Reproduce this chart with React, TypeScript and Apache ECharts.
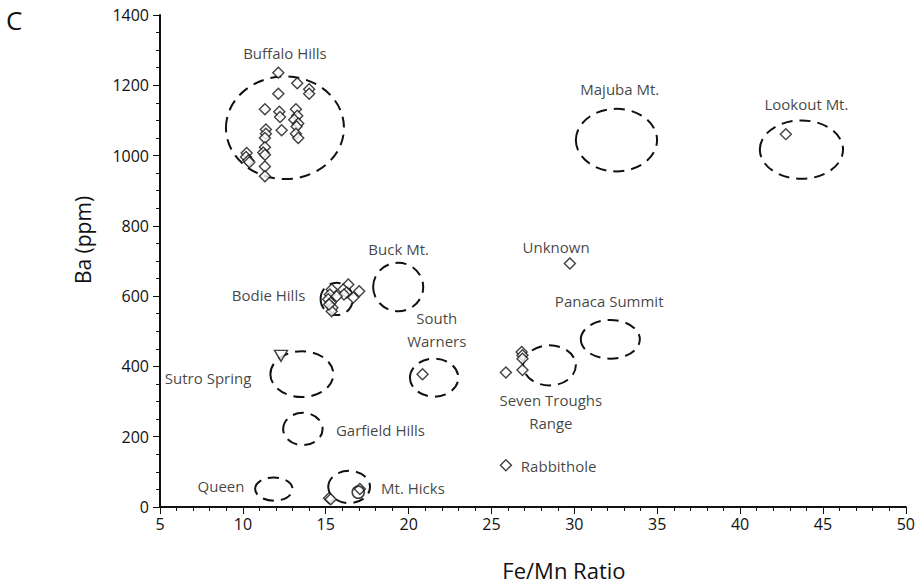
import React, { useEffect, useRef } from "react";
import * as echarts from "echarts";

// Diamond points [Fe/Mn, Ba]
const buffaloHills: number[][] = [
  [12.14, 1236], [13.28, 1206], [14.0, 1189], [14.0, 1176], [12.14, 1176],
  [11.33, 1132], [12.2, 1125], [13.2, 1132], [12.24, 1110], [13.28, 1113],
  [13.1, 1102], [13.34, 1091], [13.24, 1083], [12.34, 1072], [11.39, 1074],
  [11.39, 1062], [11.33, 1050], [13.2, 1062], [13.34, 1050], [11.33, 1024],
  [11.23, 1009], [11.33, 1002], [10.23, 1007], [10.19, 996], [10.33, 986],
  [10.39, 981], [11.33, 969], [11.33, 941],
];
const bodieHills: number[][] = [
  [16.36, 633], [16.06, 619], [17.02, 614], [16.26, 610], [15.36, 619],
  [15.25, 605], [15.15, 591], [15.3, 581], [15.4, 567], [15.36, 557],
  [16.66, 596], [16.1, 605], [15.66, 600], [15.2, 576],
];
const mtHicks: number[][] = [[15.2, 25], [15.3, 22], [17.06, 51]];
const sevenTroughs: number[][] = [[26.82, 441], [26.87, 432], [26.87, 422], [25.87, 383], [26.87, 390]];
const southWarners: number[][] = [[20.84, 378]];
const lookoutMt: number[][] = [[42.76, 1061]];
const unknown: number[][] = [[29.73, 693]];
const rabbithole: number[][] = [[25.87, 119]];
// other symbols
const sutroTriangles: number[][] = [[12.3, 430]];
const hicksCircles: number[][] = [[16.96, 42]];

// Source ellipses: [centre x, centre y, radius x, radius y]
const ellipseNames = ["Buffalo Hills", "Bodie Hills", "Buck Mt.", "Sutro Spring", "Garfield Hills", "Queen", "Mt. Hicks", "Seven Troughs Range", "Panaca Summit", "South Warners", "Majuba Mt.", "Lookout Mt."];
const ellipses: number[][] = [
  [12.54, 1079, 3.56, 146],
  [15.66, 592, 0.97, 46],
  [19.37, 626, 1.51, 69],
  [13.56, 378, 1.9, 65],
  [13.62, 222, 1.19, 46],
  [11.87, 51, 1.13, 33],
  [16.41, 57, 1.26, 46],
  [28.5, 403, 1.59, 57],
  [32.17, 477, 1.78, 55],
  [21.54, 368, 1.46, 54],
  [32.54, 1044, 2.45, 89],
  [43.7, 1017, 2.51, 83],
];

// Label anchors
const labelTexts = ["Buffalo Hills", "Majuba Mt.", "Lookout Mt.", "Buck Mt.", "Unknown", "Bodie Hills", "Panaca Summit", "South\nWarners", "Sutro Spring", "Seven Troughs\nRange", "Garfield Hills", "Rabbithole", "Queen", "Mt. Hicks"];
const labelPositions: number[][] = [
  [12.54, 1292], [32.74, 1190], [44.0, 1147], [19.4, 733], [28.9, 741],
  [11.55, 602], [32.1, 585], [21.7, 505], [7.9, 366], [28.58, 273],
  [18.3, 219], [29.05, 118], [8.68, 60], [20.26, 54],
];

const xTicks = { min: 5, max: 50, interval: 5 };
const yTicks = { min: 0, max: 1400, interval: 200 };

const INK = "#111111";
const FONT = "Open Sans";

export default function App() {
  const ref = useRef<HTMLDivElement>(null);
  useEffect(() => {
    if (!ref.current) return;
    const chart = echarts.init(ref.current, undefined, { renderer: "svg" });
    const diamonds = [
      ...buffaloHills, ...bodieHills, ...mtHicks, ...sevenTroughs,
      ...southWarners, ...lookoutMt, ...unknown, ...rabbithole,
    ];
    const markerStyle = { color: "#ffffff", borderColor: INK, borderWidth: 1.4 };
    chart.setOption({
      animation: false,
      backgroundColor: "#ffffff",
      textStyle: { fontFamily: FONT, color: INK },
      graphic: [
        { type: "text", left: 6, top: 7, style: { text: "C", fontSize: 26, fontFamily: FONT, fill: INK } },
      ],
      grid: { left: 160, right: 12, top: 15, bottom: 78, containLabel: false },
      xAxis: {
        type: "value",
        min: xTicks.min, max: xTicks.max, interval: xTicks.interval,
        name: "Fe/Mn Ratio", nameLocation: "middle", nameGap: 52,
        nameTextStyle: { fontSize: 22, color: INK, fontFamily: FONT, padding: [0, 0, 0, 62] },
        axisLine: { show: true, onZero: false, lineStyle: { color: INK, width: 2 } },
        axisTick: { show: true, inside: false, length: 7, lineStyle: { color: INK, width: 1 } },
        minorTick: { show: true, splitNumber: 5, length: 4, lineStyle: { color: INK, width: 1 } },
        axisLabel: { fontSize: 16, color: INK, fontFamily: FONT, margin: 9 },
        splitLine: { show: false },
      },
      yAxis: {
        type: "value",
        min: yTicks.min, max: yTicks.max, interval: yTicks.interval,
        name: "Ba (ppm)", nameLocation: "middle", nameGap: 67, nameRotate: 90,
        nameTextStyle: { fontSize: 21, color: INK, fontFamily: FONT, padding: [0, 0, 0, 42] },
        axisLine: { show: true, onZero: false, lineStyle: { color: INK, width: 2 } },
        axisTick: { show: true, inside: false, length: 7, lineStyle: { color: INK, width: 1 } },
        minorTick: { show: true, splitNumber: 4, length: 4, lineStyle: { color: INK, width: 1 } },
        axisLabel: { fontSize: 16, color: INK, fontFamily: FONT, margin: 11, formatter: (v: number) => String(v) },
        splitLine: { show: false },
      },
      series: [
        {
          type: "custom",
          name: "Sources",
          clip: false,
          silent: true,
          encode: { x: 0, y: 1 },
          data: ellipses.map((e, i) => ({ name: ellipseNames[i], value: e })),
          renderItem: (params: any, api: any) => {
            const c = api.coord([api.value(0), api.value(1)]);
            const s = api.size([api.value(2), api.value(3)]);
            return {
              type: "ellipse",
              shape: { cx: c[0], cy: c[1], rx: s[0], ry: s[1] },
              style: { fill: "none", stroke: INK, lineWidth: 2, lineDash: [11, 7] },
            };
          },
          z: 1,
        },
        {
          type: "scatter",
          name: "Samples",
          symbol: "diamond",
          symbolSize: [11, 11],
          itemStyle: markerStyle,
          data: diamonds,
          z: 3,
        },
        {
          type: "scatter",
          name: "Triangle",
          symbol: "triangle",
          symbolRotate: 180,
          symbolSize: [13, 11],
          itemStyle: markerStyle,
          data: sutroTriangles,
          z: 3,
        },
        {
          type: "scatter",
          name: "Circle",
          symbol: "circle",
          symbolSize: 12,
          itemStyle: { color: "rgba(255,255,255,0)", borderColor: INK, borderWidth: 1.6 },
          data: hicksCircles,
          z: 3,
        },
        {
          type: "scatter",
          name: "Labels",
          symbolSize: 0,
          silent: true,
          data: labelPositions.map((p, i) => ({ name: labelTexts[i], value: p })),
          label: {
            show: true,
            position: "inside",
            formatter: (p: any) => p.name,
            fontSize: 15,
            lineHeight: 23,
            color: INK,
            fontFamily: FONT,
            align: "center",
            verticalAlign: "middle",
          },
          z: 4,
        },
      ],
    });
    return () => chart.dispose();
  }, []);
  return <div ref={ref} style={{ position: "absolute", left: 0, top: 0, width: 918, height: 586 }} />;
}
